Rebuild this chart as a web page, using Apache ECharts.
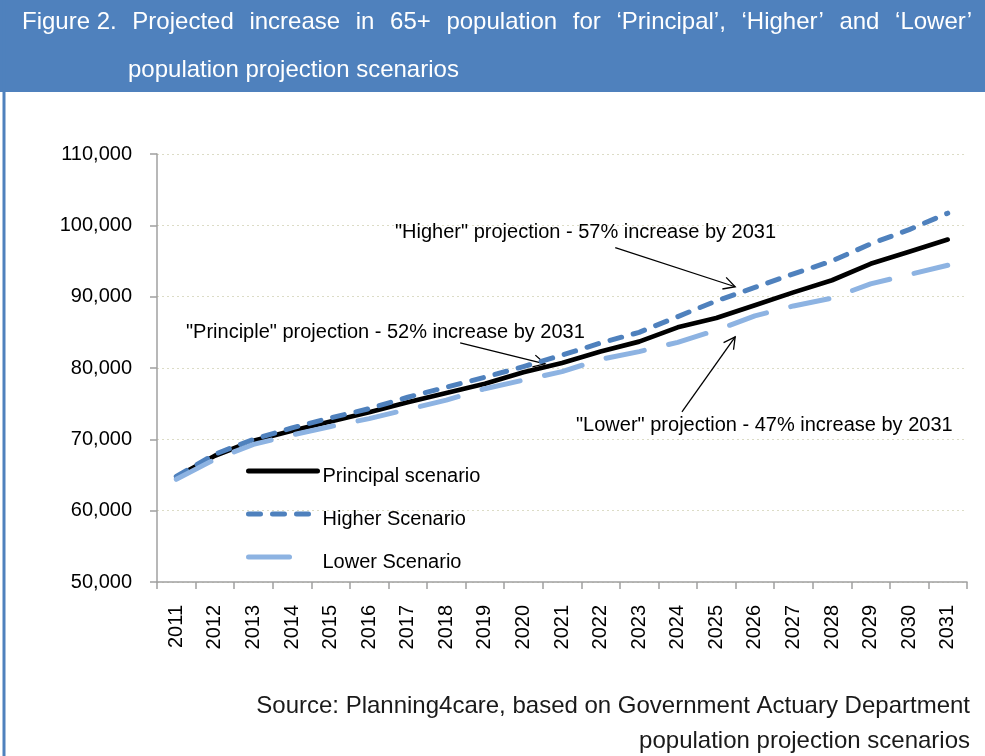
<!DOCTYPE html>
<html><head><meta charset="utf-8">
<script src="https://cdn.jsdelivr.net/npm/echarts@6/dist/echarts.min.js"></script>
<style>html,body{margin:0;padding:0;background:#fff}#c{width:985px;height:756px}</style>
</head><body><div id="c"></div>
<script>
const years = ['2011','2012','2013','2014','2015','2016','2017','2018','2019','2020','2021','2022','2023','2024','2025','2026','2027','2028','2029','2030','2031'];
const principal = [64700,67700,69800,71200,72500,73800,75200,76500,77800,79400,80700,82300,83700,85700,87000,88800,90600,92300,94600,96300,98000];
const higher    = [64800,67900,70000,71600,73000,74300,75900,77300,78700,80200,81800,83500,85000,87200,89400,91300,93200,95000,97400,99400,101700];
const lower     = [64400,67200,69300,70600,71800,72900,74200,75500,77100,78300,79500,81200,82300,83600,85300,87300,88700,89800,91800,93100,94400];
const seriesNames = ['Principal scenario','Higher Scenario','Lower Scenario'];
const yMin = 50000, yMax = 110000, yStep = 10000;
const titleWords = ['Figure 2.','Projected','increase','in','65+','population','for','\u2018Principal\u2019,','\u2018Higher\u2019','and','\u2018Lower\u2019'];
const titleLine2 = 'population projection scenarios';
const sourceLines = ['Source: Planning4care, based on Government Actuary Department','population projection scenarios'];
const annotations = [
  {text:'"Higher" projection - 57% increase by 2031', x:395, y:232, tail:[11.38,96860], tip:[14.49,91390]},
  {text:'"Principle" projection - 52% increase by 2031', x:186, y:332, tail:[7.36,83530], tip:[9.56,80590]},
  {text:'"Lower" projection - 47% increase by 2031', x:576, y:425, tail:[13.11,73860], tip:[14.49,84370]}
];

const FONT = '"Liberation Sans", Arial, sans-serif';
const chart = echarts.init(document.getElementById('c'), null, {renderer:'canvas'});

chart.setOption({
  backgroundColor:'#ffffff',
  animation:false,
  grid:{left:157, right:18, top:154, bottom:174, outerBoundsMode:'none', containLabel:false},
  legend:{
    orient:'vertical', left:246, top:463, padding:0, itemWidth:69, itemHeight:20, itemGap:20,
    data:[
      {name:seriesNames[0]},
      {name:seriesNames[1]},
      {name:seriesNames[2], lineStyle:{type:[41,60]}}
    ],
    formatter:name=>'{t|' + name + '}',
    textStyle:{fontFamily:FONT, fontSize:20, color:'#000',
      rich:{t:{fontFamily:FONT, fontSize:20, color:'#000', padding:[10,0,0,0]}}},
    itemStyle:{opacity:0, color:'rgba(0,0,0,0)', borderWidth:0},
    lineStyle:{width:5, cap:'round'}
  },
  xAxis:{
    type:'category', data:years, boundaryGap:true,
    axisLine:{lineStyle:{color:'#a0a0a0', width:1.5}},
    axisTick:{show:true, length:7, interval:0, lineStyle:{color:'#a0a0a0', width:1.5}},
    axisLabel:{interval:0, rotate:90, margin:23, fontFamily:FONT, fontSize:20, color:'#000'},
    splitLine:{show:false}
  },
  yAxis:{
    type:'value', min:yMin, max:yMax, interval:yStep,
    axisLine:{show:true, lineStyle:{color:'#a0a0a0', width:1.5}},
    axisTick:{show:true, length:7, lineStyle:{color:'#a0a0a0', width:1.5}},
    axisLabel:{margin:25, fontFamily:FONT, fontSize:20, color:'#000',
      formatter:v=>v.toLocaleString('en-US')},
    splitLine:{show:true, lineStyle:{color:'#dcdcc6', width:1.2, type:[2,3]}}
  },
  series:[
    {name:seriesNames[0], type:'line', data:principal, symbol:'none', z:3,
      lineStyle:{color:'#000000', width:4.7, cap:'round', join:'round'}, itemStyle:{color:'#000000'}},
    {name:seriesNames[1], type:'line', data:higher, symbol:'none', z:4,
      lineStyle:{color:'#4f81bd', width:5, type:[12,12], cap:'round', join:'round'}, itemStyle:{color:'#4f81bd'}},
    {name:seriesNames[2], type:'line', data:lower, symbol:'none', z:5,
      lineStyle:{color:'#8db3e2', width:5, type:[39,25], cap:'round', join:'round'}, itemStyle:{color:'#8db3e2'}}
  ]
});

// build decorations
const g = [];
g.push({type:'rect', z:0, silent:true, shape:{x:0,y:0,width:985,height:92}, style:{fill:'#4f81bd'}});
g.push({type:'rect', z:0, silent:true, shape:{x:2.5,y:0,width:3,height:756}, style:{fill:'#4f81bd'}});

const cv = document.createElement('canvas').getContext('2d');
const titleFont = '24px ' + FONT;
cv.font = titleFont;
const widths = titleWords.map(w=>cv.measureText(w).width);
const L = 22, R = 972;
const totalW = widths.reduce((a,b)=>a+b,0);
const gap = (R-L-totalW)/(titleWords.length-1);
let cx = L;
titleWords.forEach((w,i)=>{
  g.push({type:'text', z:10, silent:true, style:{text:w, x:cx, y:22, fill:'#ffffff', font:titleFont, textAlign:'left', textVerticalAlign:'middle'}});
  cx += widths[i] + gap;
});
g.push({type:'text', z:10, silent:true, style:{text:titleLine2, x:128, y:70, fill:'#ffffff', font:titleFont, textAlign:'left', textVerticalAlign:'middle'}});
sourceLines.forEach((s,i)=>{
  g.push({type:'text', z:10, silent:true, style:{text:s, x:970, y:706+i*35, fill:'#1a1a1a', font:titleFont, textAlign:'right', textVerticalAlign:'middle'}});
});

function toPx(pt){
  const a = chart.convertToPixel({gridIndex:0}, [0, pt[1]]);
  const b = chart.convertToPixel({gridIndex:0}, [1, pt[1]]);
  return [a[0] + pt[0]*(b[0]-a[0]), a[1]];
}
annotations.forEach(a=>{
  g.push({type:'text', z:10, silent:true, style:{text:a.text, x:a.x, y:a.y, fill:'#000', font:'20px ' + FONT, textAlign:'left', textVerticalAlign:'middle'}});
  const T = toPx(a.tail), P = toPx(a.tip);
  const dx = P[0]-T[0], dy = P[1]-T[1], len = Math.hypot(dx,dy);
  const ux = dx/len, uy = dy/len, hl = 13, ang = 28*Math.PI/180;
  const h1 = [P[0] - hl*(ux*Math.cos(ang) - uy*Math.sin(ang)), P[1] - hl*(uy*Math.cos(ang) + ux*Math.sin(ang))];
  const h2 = [P[0] - hl*(ux*Math.cos(ang) + uy*Math.sin(ang)), P[1] - hl*(uy*Math.cos(ang) - ux*Math.sin(ang))];
  g.push({type:'line', z:2, silent:true, shape:{x1:T[0],y1:T[1],x2:P[0],y2:P[1]}, style:{stroke:'#000', lineWidth:1.3}});
  g.push({type:'polyline', z:2, silent:true, shape:{points:[h1,P,h2]}, style:{stroke:'#000', lineWidth:1.3, fill:null}});
});
chart.setOption({graphic:g});
</script></body></html>
